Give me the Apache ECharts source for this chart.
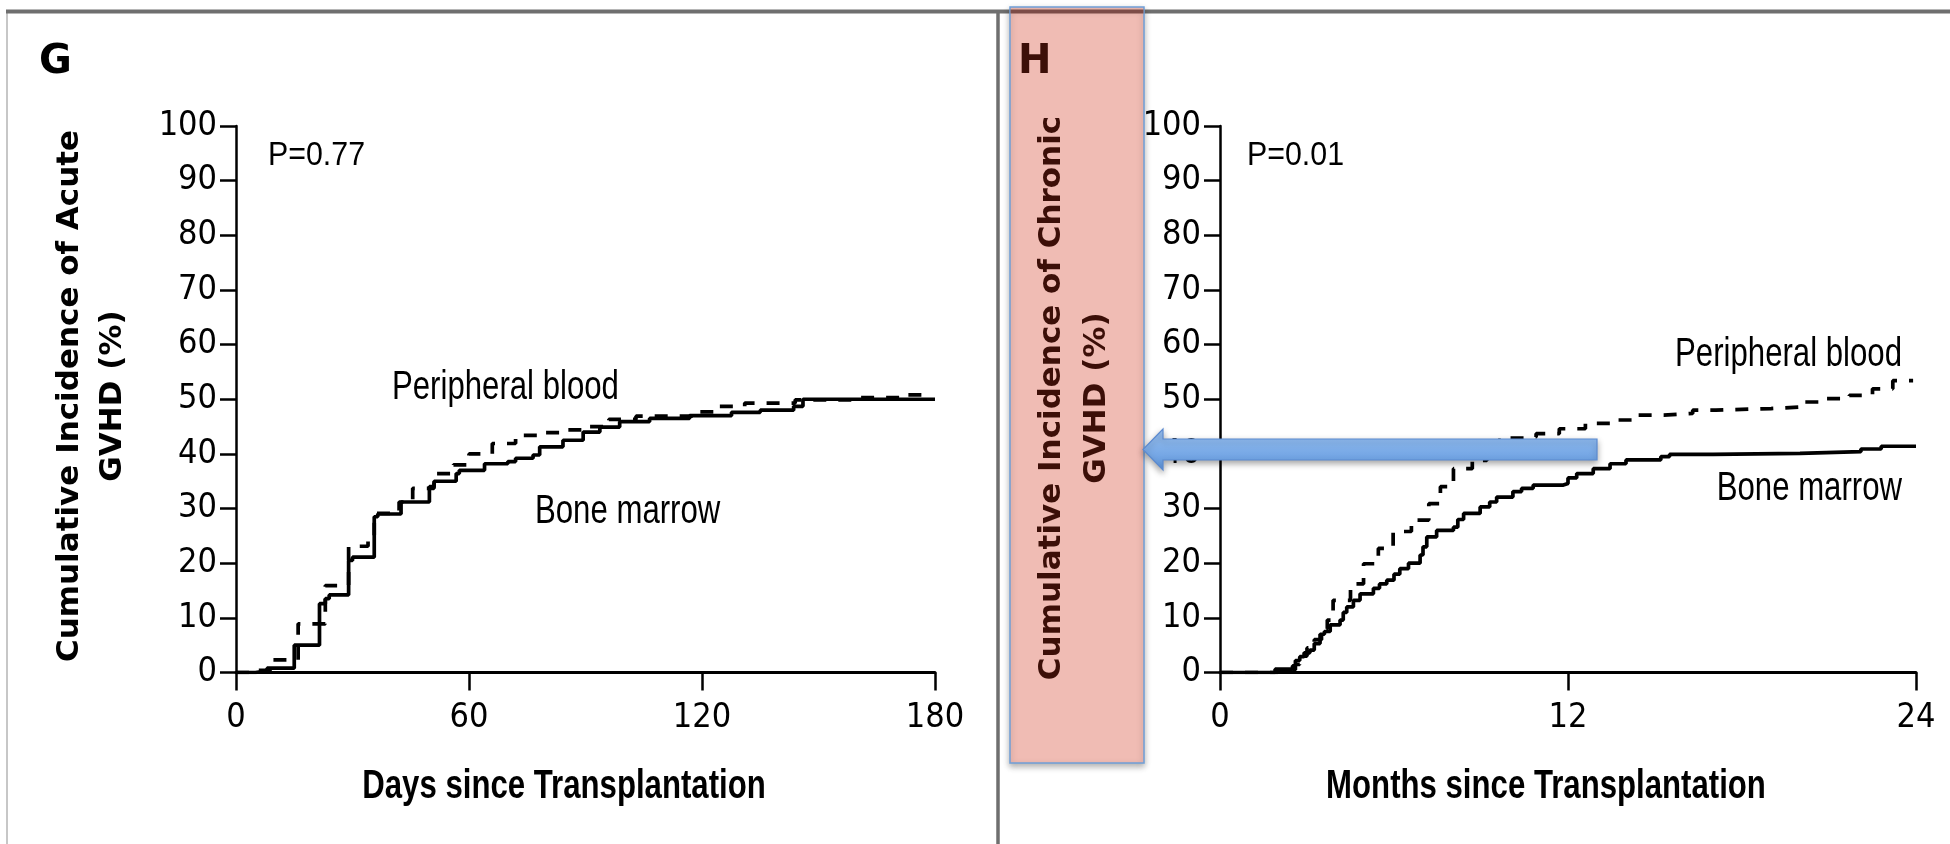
<!DOCTYPE html>
<html>
<head>
<meta charset="utf-8">
<script src="https://cdn.jsdelivr.net/npm/echarts@6/dist/echarts.min.js"></script>
<style>
  html, body { margin: 0; padding: 0; background: #ffffff; }
  #chart { width: 1950px; height: 844px; }
</style>
</head>
<body>
<div id="chart"></div>
<script>
// Panel G: acute GVHD, cumulative incidence (%) by day since transplantation
const acuteBoneMarrow = [
  [0, 0], [5, 0.3], [8, 0.8], [15, 5.0], [21.5, 12.6], [23, 13.5], [24, 14.2],
  [29, 20.5], [30, 21.1], [35.6, 28.5], [36.5, 29.0], [42.5, 31.2], [49.8, 34.0],
  [51, 35.0], [56.7, 36.4], [57.5, 37.0], [64, 38.2], [70, 38.6], [72, 39.2],
  [76.5, 39.8], [78.2, 41.3], [84.2, 42.5], [89.4, 44.0], [93.7, 44.9],
  [98.8, 45.9], [106.5, 46.5], [116.8, 47.0], [127.6, 47.6], [135, 48.0],
  [143.6, 48.7], [146, 50.0], [180, 50.0]
];
const acutePeripheralBlood = [
  [0, 0], [5, 0.4], [9.4, 2.3], [16, 8.9], [23, 15.9], [29, 23.1], [34, 25.1],
  [35.6, 29.1], [42, 31.2], [45.5, 33.7], [51, 36.4], [56, 38.0], [60, 40.0],
  [66, 41.9], [72, 43.4], [78, 43.9], [84.6, 44.4], [91, 45.0], [96, 46.3],
  [103, 46.9], [118, 47.7], [124, 48.7], [131, 49.3], [144, 49.9], [160, 50.3],
  [173, 50.8], [178, 50.8]
];

// Panel H: chronic GVHD, cumulative incidence (%) by month since transplantation
const chronicBoneMarrow = [
  [0, 0], [1.9, 0.6], [2.5, 1.2], [2.6, 2.2], [2.75, 2.9], [2.9, 3.6], [3.1, 4.1],
  [3.25, 5.3], [3.45, 7.0], [3.6, 7.5], [3.8, 8.7], [4.14, 9.6], [4.25, 11.0],
  [4.37, 12.0], [4.6, 13.2], [4.83, 14.4], [5.29, 15.4], [5.5, 16.2], [5.75, 16.9],
  [6.0, 18.0], [6.2, 19.0], [6.5, 20.0], [6.9, 21.5], [7.0, 23.0], [7.13, 24.8],
  [7.47, 26.0], [8.05, 26.6], [8.2, 28.0], [8.4, 29.1], [8.97, 30.3], [9.3, 31.2],
  [9.54, 32.1], [10.1, 33.1], [10.4, 33.7], [10.8, 34.3], [11.84, 34.6],
  [12.0, 35.6], [12.3, 36.4], [12.87, 37.3], [13.45, 38.2], [14.0, 38.9],
  [15.2, 39.5], [15.5, 39.9], [17.0, 40.1], [20.0, 40.4], [22.1, 40.9],
  [22.8, 41.4], [24, 41.4]
];
const chronicPeripheralBlood = [
  [0, 0], [2.0, 0.5], [2.6, 1.5], [2.75, 3.0], [3.0, 4.5], [3.25, 6.0], [3.5, 8.0],
  [3.7, 9.6], [3.9, 13.2], [4.5, 16.2], [4.95, 19.9], [5.46, 22.7], [5.97, 25.8],
  [6.6, 27.9], [7.2, 30.9], [7.6, 34.0], [8.05, 37.3], [8.7, 38.8], [9.2, 41.0],
  [9.6, 42.5], [10.0, 42.9], [10.5, 43.1], [10.9, 43.7], [11.7, 44.6], [12.6, 45.6],
  [13.6, 46.2], [14.4, 47.1], [15.3, 47.4], [16.3, 48.0], [17.1, 48.3], [19.0, 48.6],
  [20.1, 49.5], [20.9, 50.1], [21.7, 50.7], [22.5, 51.9], [23.2, 53.4], [23.9, 53.4]
];

const daysRange = [0, 180, 60];     // min, max, tick step
const monthsRange = [0, 24, 12];
const percentRange = [0, 100, 10];

const seriesNames = ['Bone marrow', 'Peripheral blood'];
const pValues = ['P=0.77', 'P=0.01'];
const xTitles = ['Days since Transplantation', 'Months since Transplantation'];
const yTitles = ['Cumulative Incidence of Acute\nGVHD (%)', 'Cumulative Incidence of Chronic\nGVHD (%)'];
const panelLetters = ['G', 'H'];

const TICK_FONT = '"DejaVu Sans Condensed", "Liberation Sans", sans-serif';
const TEXT_FONT = '"Liberation Sans", Arial, sans-serif';
const WIDE_BOLD = '"DejaVu Sans", Verdana, sans-serif';
const NARROW_SCALE = 0.76;   // horizontal squeeze for the narrow annotation face
const BROWN = '#3c0f08';

function xAxisCfg(gridIndex, range) {
  return {
    type: 'value', gridIndex,
    min: range[0], max: range[1], interval: range[2],
    splitLine: { show: false },
    axisLine: { lineStyle: { color: '#000', width: 3 } },
    axisTick: { length: 18, lineStyle: { color: '#000', width: 2.5 } },
    axisLabel: { color: '#000', fontSize: 34, fontFamily: TICK_FONT, margin: 29 }
  };
}
function yAxisCfg(gridIndex) {
  return {
    type: 'value', gridIndex,
    min: percentRange[0], max: percentRange[1], interval: percentRange[2],
    splitLine: { show: false },
    axisLine: { show: true, lineStyle: { color: '#000', width: 2.5 } },
    axisTick: { show: true, length: 16, lineStyle: { color: '#000', width: 2.5 } },
    axisLabel: { color: '#000', fontSize: 34, fontFamily: TICK_FONT, margin: 19 }
  };
}
function curve(name, data, idx, dashed) {
  return {
    name, type: 'line', data, step: 'end',
    xAxisIndex: idx, yAxisIndex: idx,
    symbol: 'none', silent: true, z: 3,
    lineStyle: { color: '#000', width: 3.7, type: dashed ? [13, 12] : 'solid' }
  };
}
function label(text, x, y, size, opts) {
  return Object.assign({
    type: 'text', x, y, z: 20, silent: true, scaleX: NARROW_SCALE,
    style: Object.assign({
      text, fill: '#000', fontSize: size, fontFamily: TEXT_FONT,
      align: 'left', verticalAlign: 'middle'
    }, (opts && opts.style) || {})
  }, (opts && opts.el) || {});
}

const chart = echarts.init(document.getElementById('chart'), null, { renderer: 'canvas' });

chart.setOption({
  animation: false,
  backgroundColor: '#ffffff',
  grid: [
    { left: 236, width: 699, top: 126, bottom: 171.5 },
    { left: 1220, width: 696, top: 126, bottom: 171.5 }
  ],
  xAxis: [xAxisCfg(0, daysRange), xAxisCfg(1, monthsRange)],
  yAxis: [yAxisCfg(0), yAxisCfg(1)],
  series: [
    curve(seriesNames[0], acuteBoneMarrow, 0, false),
    curve(seriesNames[1], acutePeripheralBlood, 0, true),
    curve(seriesNames[0], chronicBoneMarrow, 1, false),
    curve(seriesNames[1], chronicPeripheralBlood, 1, true)
  ],
  graphic: [
    // frame rules
    { type: 'line', z: 1, silent: true, shape: { x1: 7, y1: 12, x2: 7, y2: 844 }, style: { stroke: '#b4b4b4', lineWidth: 1.5 } },
    { type: 'line', z: 1, silent: true, shape: { x1: 6, y1: 11.5, x2: 1950, y2: 11.5 }, style: { stroke: '#6f6f6f', lineWidth: 4 } },
    { type: 'line', z: 1, silent: true, shape: { x1: 998, y1: 11, x2: 998, y2: 844 }, style: { stroke: '#6f6f6f', lineWidth: 3.5 } },

    // highlight box behind the chronic y-axis title
    { type: 'rect', z: 5, silent: true,
      shape: { x: 1010, y: 7, width: 134, height: 756 },
      style: { fill: '#f0bcb4', stroke: '#6f9fd8', lineWidth: 1.5,
               shadowBlur: 6, shadowOffsetY: 3, shadowColor: 'rgba(0,0,0,0.3)' } },
    { type: 'line', z: 6, silent: true, shape: { x1: 1010.5, y1: 11.5, x2: 1143.5, y2: 11.5 }, style: { stroke: '#7d4c47', lineWidth: 4 } },

    // pointer arrow
    { type: 'polygon', z: 30, silent: true,
      shape: { points: [[1597, 439], [1163, 439], [1163, 429], [1143, 449.5], [1163, 470], [1163, 460], [1597, 460]] },
      style: {
        fill: { type: 'linear', x: 0, y: 0, x2: 0, y2: 1,
                colorStops: [{ offset: 0, color: '#9cc4f4' }, { offset: 1, color: '#5f96dc' }] },
        stroke: '#5b8ad0', lineWidth: 1.2,
        shadowBlur: 6, shadowOffsetY: 3, shadowColor: 'rgba(0,0,0,0.35)'
      } },

    // panel letters
    label(panelLetters[0], 39, 63, 40, { el: { scaleX: 1 }, style: { fontFamily: WIDE_BOLD, fontWeight: 'bold' } }),
    label(panelLetters[1], 1018, 63, 40, { el: { scaleX: 1 }, style: { fontFamily: WIDE_BOLD, fontWeight: 'bold', fill: BROWN } }),

    // y-axis titles
    label(yTitles[0], 91.5, 396, 31, {
      el: { rotation: Math.PI / 2, scaleX: 1 },
      style: { fontFamily: WIDE_BOLD, fontWeight: 'bold', align: 'center', lineHeight: 43 } }),
    label(yTitles[1], 1074, 398, 31, {
      el: { rotation: Math.PI / 2, scaleX: 1 },
      style: { fontFamily: WIDE_BOLD, fontWeight: 'bold', align: 'center', lineHeight: 45, fill: BROWN } }),

    // x-axis titles
    label(xTitles[0], 564, 787, 41, { style: { fontWeight: 'bold', align: 'center' } }),
    label(xTitles[1], 1546, 787, 41, { style: { fontWeight: 'bold', align: 'center' } }),

    // P values
    label(pValues[0], 268, 156, 33, { el: { scaleX: 0.92 } }),
    label(pValues[1], 1247, 156, 33, { el: { scaleX: 0.92 } }),

    // curve labels
    label(seriesNames[1], 392, 388, 41),
    label(seriesNames[0], 535, 512, 41),
    label(seriesNames[1], 1902, 355, 41, { style: { align: 'right' } }),
    label(seriesNames[0], 1902, 489, 41, { style: { align: 'right' } })
  ]
});
</script>
</body>
</html>
